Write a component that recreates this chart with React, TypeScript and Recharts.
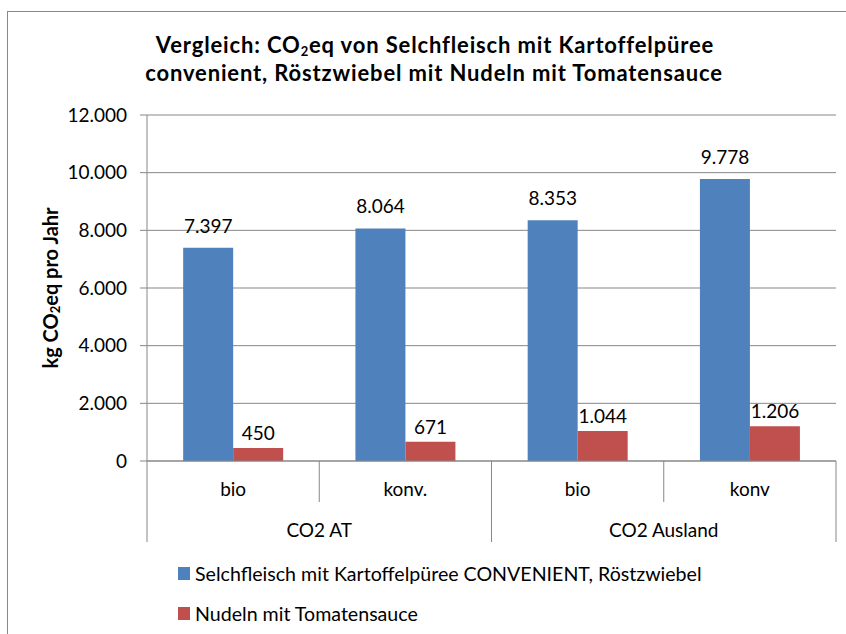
import React from "react";
import {
  Bar,
  BarChart,
  CartesianGrid,
  LabelList,
  Legend,
  XAxis,
  YAxis,
} from "recharts";

// Kategorien (untere und obere Ebene der Achse)
const categories = ["bio", "konv.", "bio", "konv"];
const groups = ["CO2 AT", "CO2 AT", "CO2 Ausland", "CO2 Ausland"];

// Werte in kg CO2eq pro Jahr
const selchfleisch = [7397, 8064, 8353, 9778];
const nudeln = [450, 671, 1044, 1206];

const seriesNames = [
  "Selchfleisch mit Kartoffelpüree CONVENIENT, Röstzwiebel",
  "Nudeln mit Tomatensauce",
];
const yTicks = [0, 2000, 4000, 6000, 8000, 10000, 12000];

const data = categories.map((cat, i) => ({
  cat,
  group: groups[i],
  selch: selchfleisch[i],
  nudeln: nudeln[i],
}));

const W = 846;
const H = 634;
const FONT = "Lato, Carlito, 'Open Sans', sans-serif";
const GRID = "#878787";
const PLOT_LEFT = 147;
const PLOT_RIGHT = 836;
const BAND = (PLOT_RIGHT - PLOT_LEFT) / categories.length;

const fmt = (v: number) =>
  String(v).replace(/\B(?=(\d{3})+(?!\d))/g, ".");

const CategoryTick = (props: any) => {
  const { x, y, payload, index } = props;
  const half = BAND / 2;
  const left = x - half;
  const groupStart = index === 0 || groups[index] !== groups[index - 1];
  let groupLen = 0;
  if (groupStart) {
    for (let j = index; j < groups.length && groups[j] === groups[index]; j++)
      groupLen++;
  }
  return (
    <g>
      <line
        x1={left}
        x2={left}
        y1={y}
        y2={groupStart ? y + 81 : y + 41}
        stroke={GRID}
      />
      {index === categories.length - 1 && (
        <line x1={x + half} x2={x + half} y1={y} y2={y + 81} stroke={GRID} />
      )}
      <text
        x={x}
        y={y + 27}
        textAnchor="middle"
        dominantBaseline="central"
        fontSize={19}
        fill="#000"
        fontFamily={FONT}
      >
        {payload.value}
      </text>
      {groupStart && (
        <text
          x={left + (groupLen * BAND) / 2}
          y={y + 68}
          textAnchor="middle"
          dominantBaseline="central"
          fontSize={19}
          fill="#000"
          fontFamily={FONT}
        >
          {groups[index]}
        </text>
      )}
    </g>
  );
};

const YLabel = (props: any) => {
  const { viewBox } = props;
  const cy = viewBox.y + viewBox.height / 2;
  const cx = 50;
  return (
    <text
      transform={`rotate(-90 ${cx} ${cy})`}
      x={cx}
      y={cy}
      textAnchor="middle"
      dominantBaseline="central"
      fontSize={20}
      fontWeight="bold"
      fontFamily={FONT}
      fill="#000"
    >
      kg CO
      <tspan fontSize={13} dy={5}>
        2
      </tspan>
      <tspan dy={-5}>eq pro Jahr</tspan>
    </text>
  );
};

const LegendContent = (props: any) => {
  const items = [...(props.payload || [])].sort(
    (a: any, b: any) => seriesNames.indexOf(a.value) - seriesNames.indexOf(b.value)
  );
  return (
    <div style={{ fontFamily: FONT, fontSize: 19.6, color: "#000" }}>
      {items.map((p: any) => (
        <div
          key={p.value}
          style={{ display: "flex", alignItems: "center", height: 40 }}
        >
          <span
            style={{
              display: "inline-block",
              width: 12,
              height: 13,
              background: p.color,
              marginRight: 5,
            }}
          />
          <span>{p.value}</span>
        </div>
      ))}
    </div>
  );
};

export default function App() {
  return (
    <div
      style={{
        position: "absolute",
        left: 0,
        top: 0,
        width: W,
        height: H,
        overflow: "hidden",
        background: "#fff",
      }}
    >
      <div
        style={{
          position: "absolute",
          left: 7,
          top: 11,
          width: 900,
          height: 700,
          border: "1px solid #888",
        }}
      />
      <svg
        width={W}
        height={100}
        style={{ position: "absolute", left: 0, top: 0 }}
      >
        <g
          fontFamily={FONT}
          fontWeight="bold"
          fontSize={22}
          letterSpacing={0.85}
          fill="#000"
          textAnchor="middle"
        >
          <text x={435} y={53}>
            Vergleich: CO
            <tspan fontSize={13} dy={3}>
              2
            </tspan>
            <tspan dy={-3}>eq von Selchfleisch mit Kartoffelpüree</tspan>
          </text>
          <text x={434} y={81}>
            convenient, Röstzwiebel mit Nudeln mit Tomatensauce
          </text>
        </g>
      </svg>
      <div style={{ position: "absolute", left: 0, top: 0 }}>
        <BarChart
          width={W}
          height={H}
          data={data}
          margin={{ top: 115, right: W - PLOT_RIGHT, left: PLOT_LEFT - 60, bottom: 92 }}
          barCategoryGap="21%"
          barGap={0}
        >
          <CartesianGrid vertical={false} stroke={GRID} />
          <XAxis
            dataKey="cat"
            height={81}
            axisLine={{ stroke: GRID }}
            tickLine={false}
            tickSize={0}
            tickMargin={0}
            interval={0}
            tick={<CategoryTick />}
          />
          <YAxis
            width={60}
            domain={[0, 12000]}
            ticks={yTicks}
            interval={0}
            axisLine={{ stroke: GRID }}
            tickLine={{ stroke: GRID }}
            tickSize={7}
            tickMargin={13}
            tickFormatter={fmt}
            tick={{ fill: "#000", fontSize: 19, fontFamily: FONT }}
            label={<YLabel />}
          />
          <Legend
            layout="vertical"
            align="center"
            verticalAlign="middle"
            wrapperStyle={{ left: 178, top: 553, width: 620 }}
            content={<LegendContent />}
          />
          <Bar
            dataKey="selch"
            name={seriesNames[0]}
            fill="#4F81BD"
            isAnimationActive={false}
          >
            <LabelList
              dataKey="selch"
              position="top"
              offset={15}
              formatter={(v: any) => fmt(Number(v))}
              fill="#000"
              fontSize={19}
              fontFamily={FONT}
            />
          </Bar>
          <Bar
            dataKey="nudeln"
            name={seriesNames[1]}
            fill="#C0504D"
            isAnimationActive={false}
          >
            <LabelList
              dataKey="nudeln"
              position="top"
              offset={8}
              formatter={(v: any) => fmt(Number(v))}
              fill="#000"
              fontSize={19}
              fontFamily={FONT}
            />
          </Bar>
        </BarChart>
      </div>
    </div>
  );
}
